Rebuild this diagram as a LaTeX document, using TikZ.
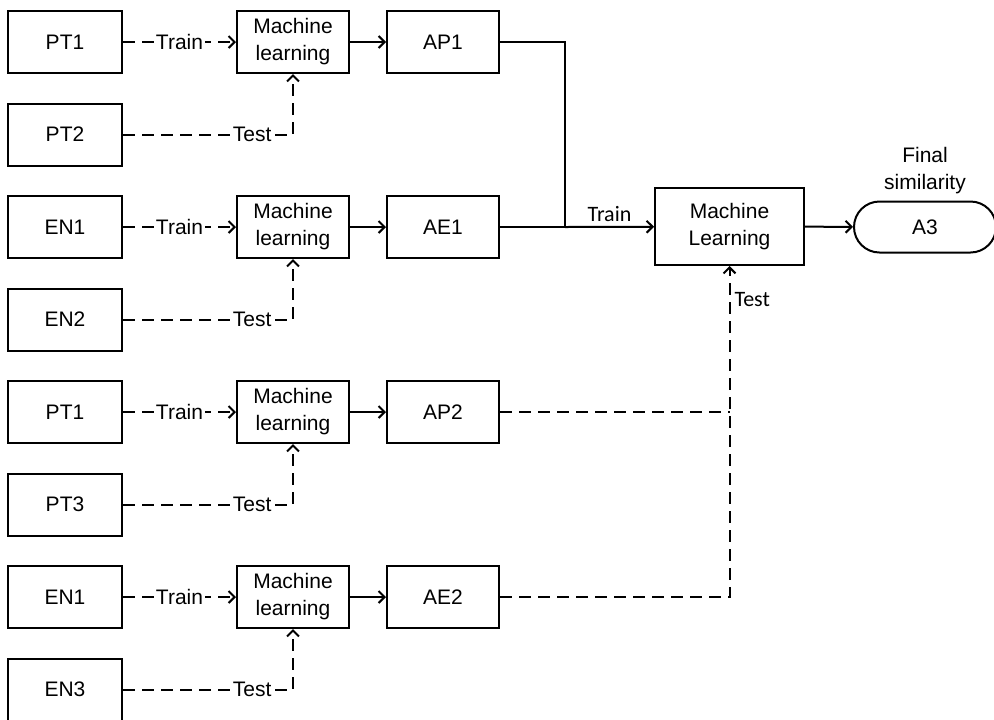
\documentclass[tikz,border=0pt]{standalone}
\usepackage{fontspec}
\setmainfont{Liberation Sans}
\newfontfamily\calibrifont{Carlito}
\usetikzlibrary{arrows.meta,shapes.misc}
\tikzset{
box/.style={
  draw,
  rectangle,
  line width=1pt,
  minimum width=57pt,
  minimum height=31pt,
  inner sep=1pt,
  align=center,
  font=\fontsize{10.5}{13.5}\selectfont
},
mlbox/.style={box, minimum width=56pt},
outbox/.style={box, minimum width=56pt},
bigbox/.style={box, minimum width=74.5pt, minimum height=38.5pt},
endbox/.style={box, rounded rectangle, minimum width=73pt, minimum height=25.5pt},
link/.style={line width=1pt},
dlink/.style={line width=1pt, dash pattern=on 6pt off 3.5pt},
lab/.style={fill=white, inner sep=1pt, font=\fontsize{10.5}{12}\selectfont},
clab/.style={inner sep=2pt, font=\calibrifont\fontsize{11}{13}\selectfont}
}

\begin{document}
\begin{tikzpicture}[x=0.5pt, y=-0.5pt, >={Straight Barb[length=3pt,width=6pt]}]
\useasboundingbox (0,0) rectangle (994,719);
% the inputs
\foreach \name [count=\i] in {PT1,PT2,EN1,EN2,PT1,PT3,EN1,EN3}
{
  \node[box] (in\i) at (65,{42+92.5*(\i-1)}) {\name};
}
% the four learners and their outputs
\foreach \out [count=\k] in {AP1,AE1,AP2,AE2}
{
  \pgfmathtruncatemacro{\r}{2*\k-1}
  \pgfmathtruncatemacro{\s}{2*\k}
  \node[mlbox] (ml\k) at (293,{42+185*(\k-1)}) {Machine\\learning};
  \node[outbox] (out\k) at (443,{42+185*(\k-1)}) {\out};
  \draw[dlink,->] (in\r) -- node[lab] {Train} (ml\k);
  \draw[dlink,->] (in\s.east) -| node[lab,pos=0.38] {Test} (ml\k.south);
  \draw[link,->] (ml\k) -- (out\k);
}
% the final learner
\node[bigbox] (bigml) at (729.5,226.5) {Machine\\Learning};
\node[endbox] (A3) at (925,227) {A3};
\node[above, align=center, inner sep=3pt, font=\fontsize{10.5}{13.5}\selectfont] (final) at (A3.north) {Final\\similarity};
\coordinate (join) at (565,227);
\coordinate (meet) at (729.5,412);
\draw[link] (out1.east) -| (join);
\draw[link] (out2.east) -- (join);
\draw[link,->] (join) -- node[clab,above] {Train} (bigml);
\draw[dlink] (out3.east) -- (meet);
\draw[dlink,->] (out4.east) -| node[clab,right,pos=0.95] {Test} (bigml.south);
\draw[link,->] (bigml) -- (A3);
\end{tikzpicture}
\end{document}
